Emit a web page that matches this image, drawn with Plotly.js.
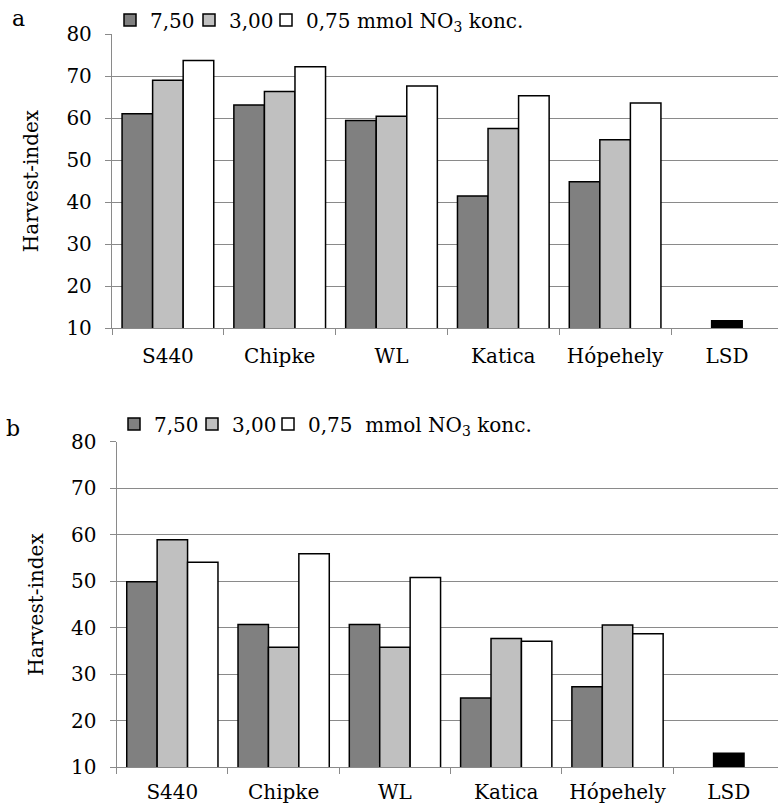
<!DOCTYPE html>
<html>
<head>
<meta charset="utf-8">
<script src="https://cdn.plot.ly/plotly-3.0.1.min.js"></script>
<style>html,body{margin:0;padding:0;background:#fff}#chart{width:778px;height:808px}</style>
</head>
<body>
<div id="chart"></div>
<script>
// ---- data ----
const categories = ['S440', 'Chipke', 'WL', 'Katica', 'Hópehely', 'LSD'];
const varieties = ['S440', 'Chipke', 'WL', 'Katica', 'Hópehely'];
const seriesNames = ['7,50', '3,00', '0,75 mmol NO<sub>3</sub> konc.'];
const seriesNamesB = ['7,50', '3,00', '0,75\u00a0 mmol NO<sub>3</sub> konc.'];
const a_750 = [61.0, 63.1, 59.4, 41.4, 44.8];
const a_300 = [69.0, 66.3, 60.4, 57.5, 54.8];
const a_075 = [73.7, 72.2, 67.6, 65.3, 63.6];
const a_LSD = [11.7];
const b_750 = [49.9, 40.7, 40.7, 24.9, 27.3];
const b_300 = [58.9, 35.8, 35.8, 37.7, 40.6];
const b_075 = [54.1, 55.9, 50.8, 37.1, 38.7];
const b_LSD = [13.0];
const lsdLabel = ['LSD'];
const yTitle = 'Harvest-index';

// ---- styles ----
const FONT = 'DejaVu Serif';
const colors = ['#808080', '#c0c0c0', '#ffffff'];
const gridC = '#8a8a8a';
const lineStyle = {color: '#000', width: 1.5};

function barTrace(x, y, i, names, xa, ya, leg) {
  return {type: 'bar', x: x, y: y, name: names[i], xaxis: xa, yaxis: ya,
    offsetgroup: String(i + 1), legend: leg,
    marker: {color: colors[i], line: lineStyle}, hoverinfo: 'x+y'};
}
function lsdTrace(y, xa, ya) {
  return {type: 'bar', x: lsdLabel, y: y, name: 'LSD', xaxis: xa, yaxis: ya,
    offsetgroup: '2', showlegend: false,
    marker: {color: '#000000', line: lineStyle}};
}

const data = [
  barTrace(varieties, a_750, 0, seriesNames, 'x', 'y', 'legend'),
  barTrace(varieties, a_300, 1, seriesNames, 'x', 'y', 'legend2'),
  barTrace(varieties, a_075, 2, seriesNames, 'x', 'y', 'legend3'),
  lsdTrace(a_LSD, 'x', 'y'),
  barTrace(varieties, b_750, 0, seriesNamesB, 'x2', 'y2', 'legend4'),
  barTrace(varieties, b_300, 1, seriesNamesB, 'x2', 'y2', 'legend5'),
  barTrace(varieties, b_075, 2, seriesNamesB, 'x2', 'y2', 'legend6'),
  lsdTrace(b_LSD, 'x2', 'y2')
];

const W = 778, H = 808, ML = 100;
const px = v => (v - ML) / (W - ML);
const py = v => 1 - v / H;

function xaxis(domStart, rangeEnd, anchor, standoff) {
  return {domain: [domStart, 1], anchor: anchor, type: 'category',
    categoryorder: 'array', categoryarray: categories,
    range: [-0.5, rangeEnd], tickson: 'boundaries', ticks: 'outside', ticklen: 6,
    tickcolor: gridC, tickwidth: 1.3, showline: true, linecolor: gridC, linewidth: 1.3,
    showgrid: false, zeroline: false, fixedrange: true,
    tickfont: {family: FONT, size: 20, color: '#000'}, ticklabelstandoff: standoff};
}
function yaxis(dom, anchor) {
  return {domain: dom, anchor: anchor, range: [10, 80], dtick: 10, tick0: 0,
    ticks: 'outside', ticklen: 6, tickcolor: gridC, tickwidth: 1.3,
    showline: true, linecolor: gridC, linewidth: 1.3,
    showgrid: true, gridcolor: gridC, gridwidth: 1.3, zeroline: false, fixedrange: true,
    tickfont: {family: FONT, size: 20, color: '#000'}, ticklabelstandoff: 9,
    title: {text: yTitle, font: {family: FONT, size: 20, color: '#000'}, standoff: 22}};
}
function leg(xAbs, yAbs) {
  return {orientation: 'h', x: px(xAbs), xanchor: 'left', y: py(yAbs), yanchor: 'middle',
    font: {family: FONT, size: 20, color: '#000'}, bgcolor: 'rgba(0,0,0,0)',
    itemclick: false, itemdoubleclick: false};
}

const layout = {
  width: W, height: H,
  margin: {l: ML, r: 0, t: 0, b: 0},
  paper_bgcolor: '#fff', plot_bgcolor: '#fff',
  barmode: 'group', bargap: 0.18, bargroupgap: 0,
  font: {family: FONT, size: 20, color: '#000'},
  xaxis: xaxis(px(112), 5.457, 'y', 10),
  yaxis: yaxis([py(328), py(34)], 'x'),
  xaxis2: xaxis(px(116.7), 5.442, 'y2', 7),
  yaxis2: yaxis([py(767.3), py(441.7)], 'x2'),
  legend: leg(110, 20), legend2: leg(189, 20), legend3: leg(266, 20),
  legend4: leg(114, 424), legend5: leg(192, 424), legend6: leg(268, 424),
  annotations: [
    {text: 'a', xref: 'paper', yref: 'paper', x: px(18), y: py(18), showarrow: false,
      font: {family: FONT, size: 22, color: '#000'}, xanchor: 'center', yanchor: 'middle'},
    {text: 'b', xref: 'paper', yref: 'paper', x: px(13), y: py(428), showarrow: false,
      font: {family: FONT, size: 22, color: '#000'}, xanchor: 'center', yanchor: 'middle'}
  ]
};

Plotly.newPlot('chart', data, layout, {displayModeBar: false});
</script>
</body>
</html>
